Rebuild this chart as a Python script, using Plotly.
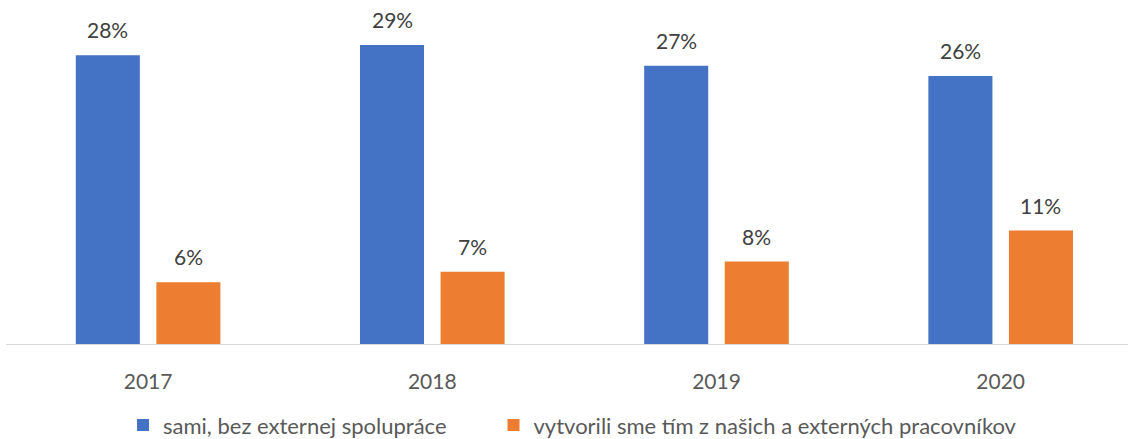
import plotly.graph_objects as go

years = ["2017", "2018", "2019", "2020"]
series_names = ["sami, bez externej spolupráce", "vytvorili sme tím z našich a externých pracovníkov"]
sami = [28, 29, 27, 26]
tim = [6, 7, 8, 11]
colors = ["#4472C4", "#ED7D31"]

FONT = "Lato"

fig = go.Figure()
fig.add_trace(go.Bar(x=years, y=sami, name=series_names[0], marker_color=colors[0],
                     marker_line_width=0, hoverinfo="x+y", legend="legend"))
fig.add_trace(go.Bar(x=years, y=tim, name=series_names[1], marker_color=colors[1],
                     marker_line_width=0, hoverinfo="x+y", legend="legend2"))

annotations = []
for vals, shift in ((sami, -40.25), (tim, 40.25)):
    for i, v in enumerate(vals):
        annotations.append(dict(
            x=i, y=v, xref="x", yref="y", text=f"{v}%", showarrow=False,
            xshift=shift, yanchor="bottom", yshift=11,
            font=dict(family=FONT, size=21, color="#404040")))

legend_common = dict(orientation="h", xanchor="left", y=-0.236, yanchor="middle",
                     font=dict(family=FONT, size=22, color="#595959"),
                     bgcolor="rgba(0,0,0,0)")

fig.update_layout(
    width=1128, height=439,
    margin=dict(l=6, r=0, t=0, b=95, autoexpand=False),
    paper_bgcolor="white", plot_bgcolor="white",
    barmode="group", bargap=0.433, bargroupgap=0.205,
    annotations=annotations,
    showlegend=True,
    legend=dict(x=0.1043, **legend_common),
    legend2=dict(x=0.4345, **legend_common),
    xaxis=dict(type="category", range=[-0.5, 3.448], showline=True, linecolor="#D9D9D9",
               linewidth=1, ticks="", showgrid=False, zeroline=False,
               tickfont=dict(family=FONT, size=21, color="#595959"),
               ticklabelstandoff=19),
    yaxis=dict(range=[0, 33.37], visible=False, fixedrange=True),
)

fig.write_html("out.html", post_script="document.body.style.margin='0';",
               config={"displayModeBar": False})
